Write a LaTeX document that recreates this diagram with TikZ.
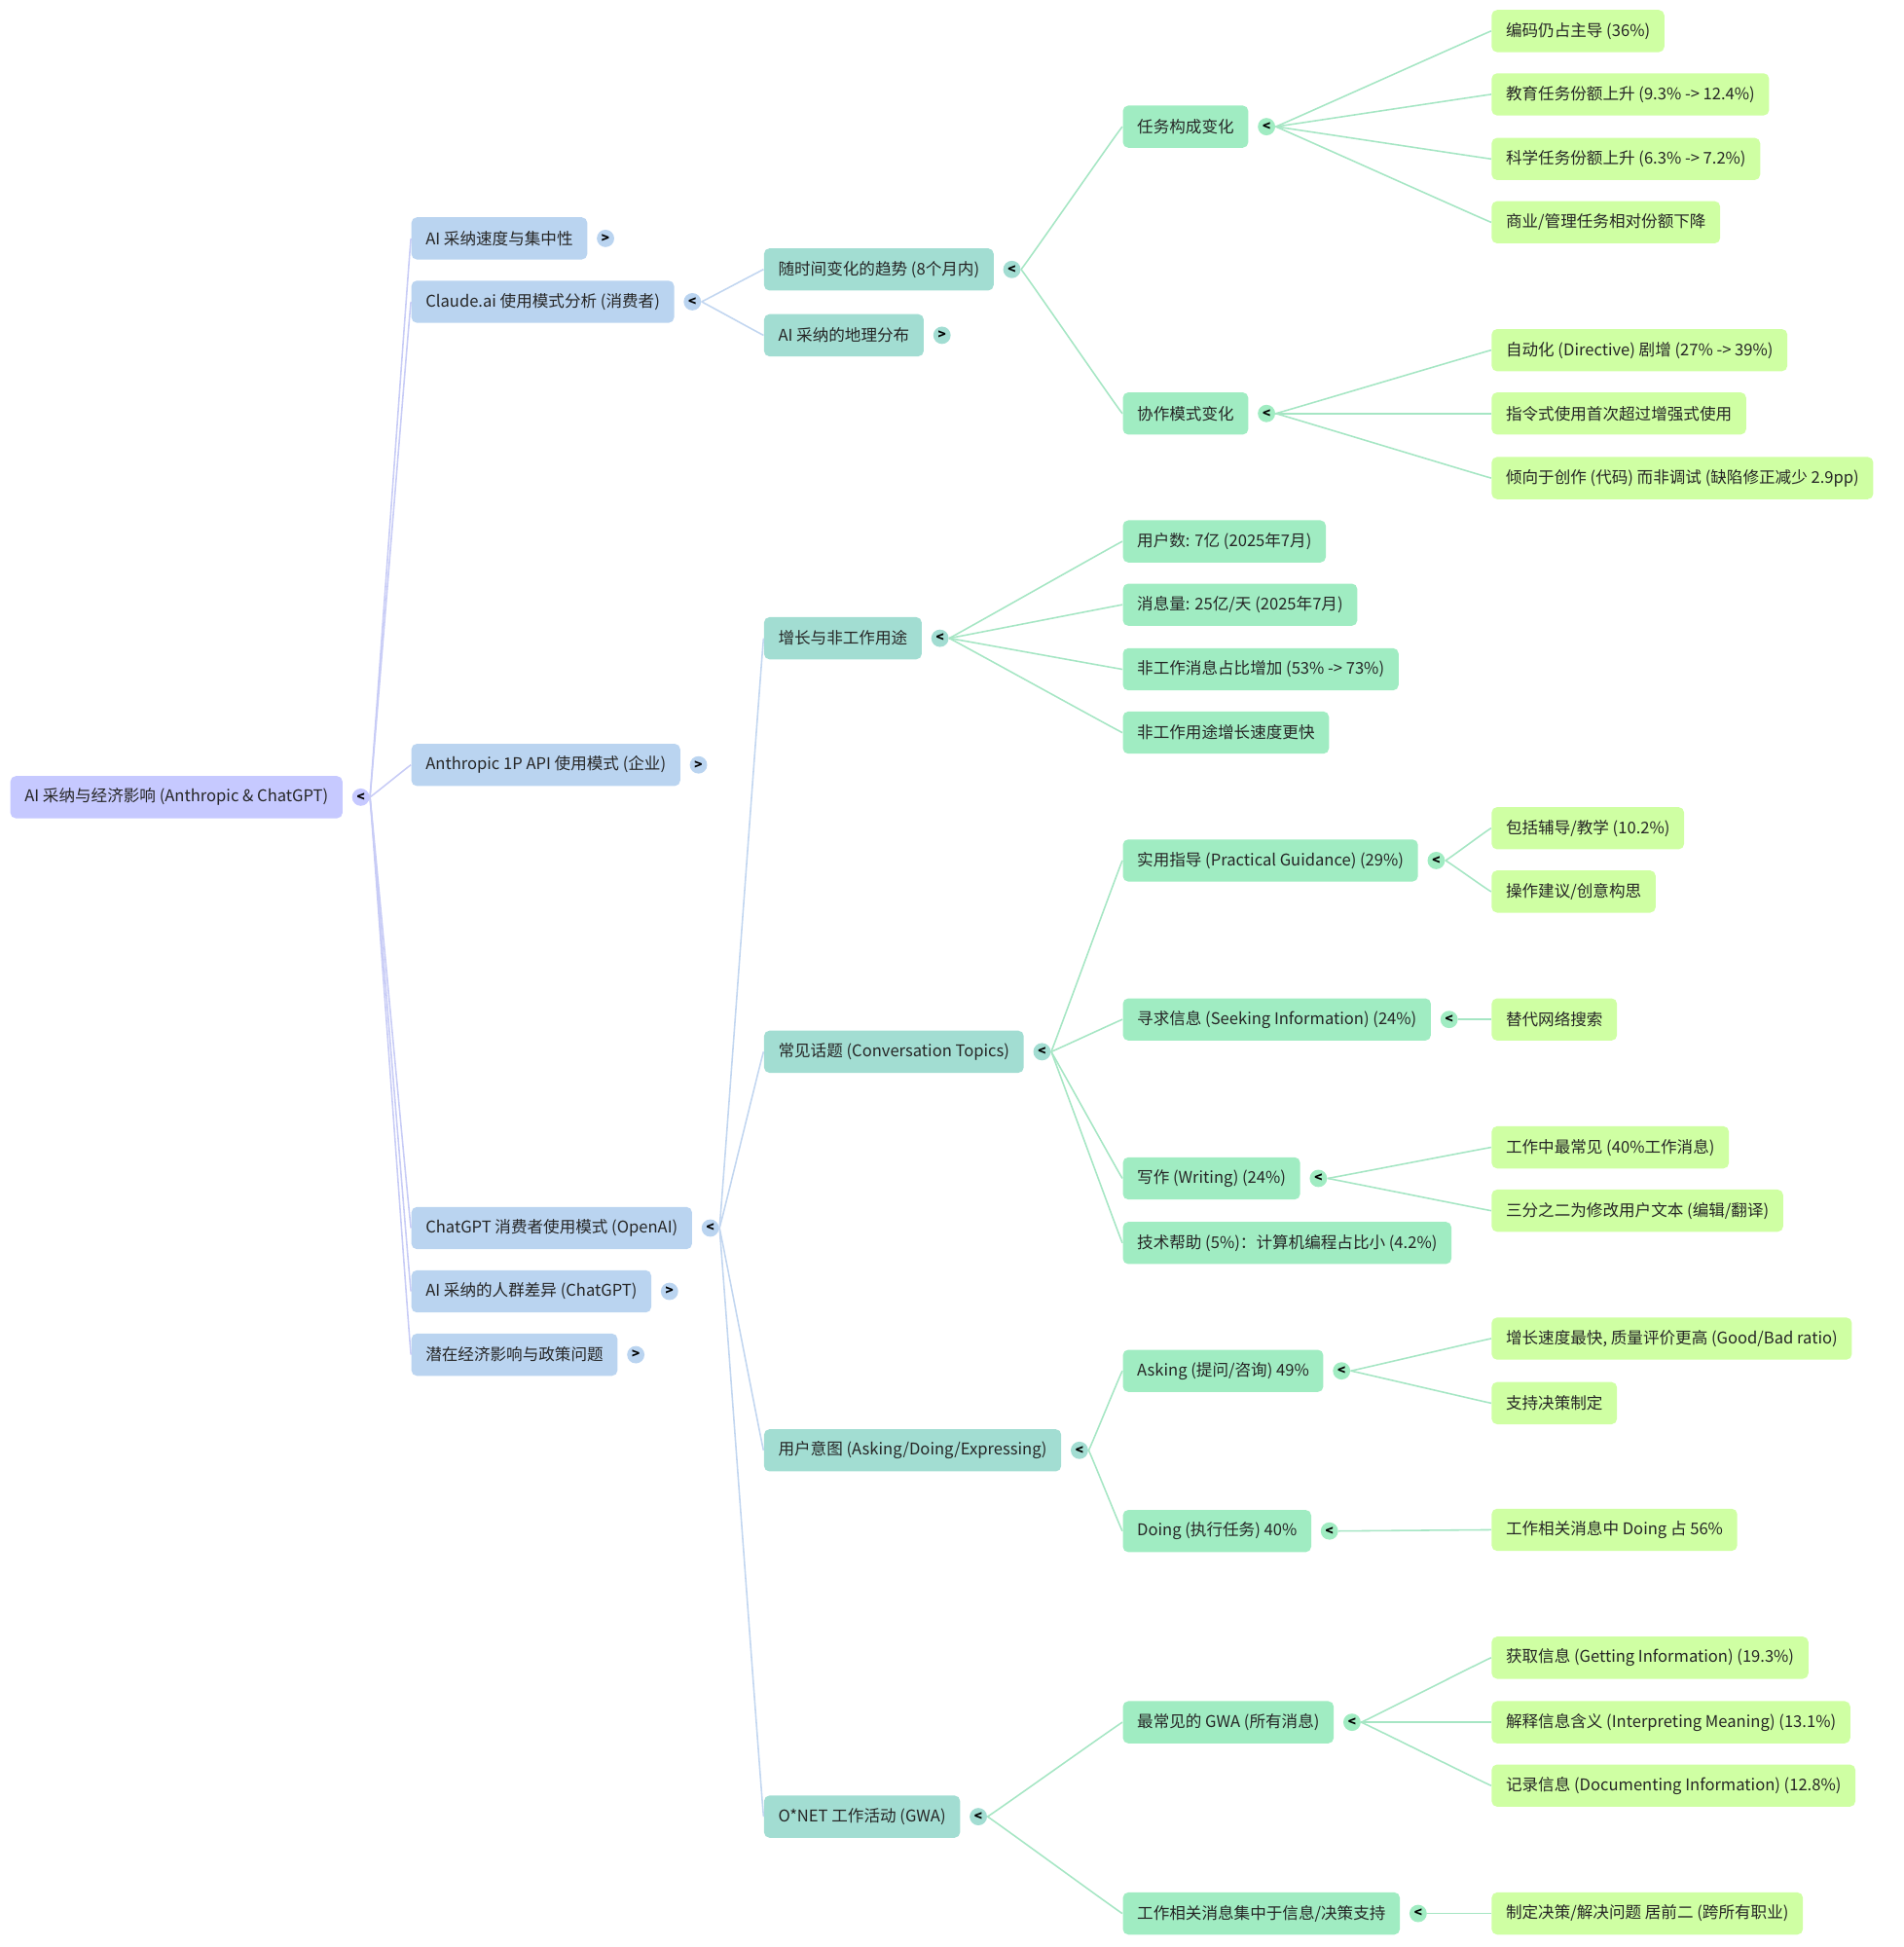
\documentclass[tikz,border=0pt]{standalone}
\usepackage{fontspec}
\setmainfont{Noto Sans CJK SC}
\usetikzlibrary{positioning}
\definecolor{rootc}{HTML}{C6C9FF}
\definecolor{lonec}{HTML}{BAD4F0}
\definecolor{ltwoc}{HTML}{A2DDD2}
\definecolor{lthreec}{HTML}{A0ECC2}
\definecolor{lfourc}{HTML}{CFFFA3}
\definecolor{eroot}{HTML}{C8CCF6}
\definecolor{eone}{HTML}{C2D6F0}
\definecolor{etwo}{HTML}{A6E6C4}
\tikzset{
  box/.style={anchor=west, rounded corners=2.5pt, minimum height=0.68cm, inner xsep=0.23cm,
    font=\fontsize{7.4}{9}\selectfont, text=black!85},
  root/.style={box, fill=rootc},
  lone/.style={box, fill=lonec},
  ltwo/.style={box, fill=ltwoc},
  lthree/.style={box, fill=lthreec},
  lfour/.style={box, fill=lfourc},
  ind/.style={circle, inner sep=0pt, minimum size=0.28cm, font=\fontsize{6}{6}\selectfont\bfseries},
  conn/.style={line width=0.7pt},
}
\newcommand{\ind}[3]{\node[ind, fill=#2, right=0.14cm of #1] (#1c) {#3};}
\begin{document}
\begin{tikzpicture}[x=0.02cm, y=-0.02cm]
\useasboundingbox (0,0) rectangle (1533,1568);
% root
\node[root] (r) at (8,642) {AI 采纳与经济影响 (Anthropic \& ChatGPT)};
\ind{r}{rootc}{<}
% level one
\node[lone] (a) at (331,192) {AI 采纳速度与集中性};
\node[lone] (b) at (331,243) {Claude.ai 使用模式分析 (消费者)};
\node[lone] (c) at (331,616) {Anthropic 1P API 使用模式 (企业)};
\node[lone] (d) at (331,989) {ChatGPT 消费者使用模式 (OpenAI)};
\node[lone] (e) at (331,1040) {AI 采纳的人群差异 (ChatGPT)};
\node[lone] (f) at (331,1091) {潜在经济影响与政策问题};
\ind{a}{lonec}{>}\ind{b}{lonec}{<}\ind{c}{lonec}{>}
\ind{d}{lonec}{<}\ind{e}{lonec}{>}\ind{f}{lonec}{>}
% level two
\node[ltwo] (b1) at (615,217) {随时间变化的趋势 (8个月内)};
\node[ltwo] (b2) at (615,270) {AI 采纳的地理分布};
\node[ltwo] (d1) at (615,514) {增长与非工作用途};
\node[ltwo] (d2) at (615,847) {常见话题 (Conversation Topics)};
\node[ltwo] (d3) at (615,1168) {用户意图 (Asking/Doing/Expressing)};
\node[ltwo] (d4) at (615,1463) {O*NET 工作活动 (GWA)};
\ind{b1}{ltwoc}{<}\ind{b2}{ltwoc}{>}
\ind{d2}{ltwoc}{<}\ind{d1}{ltwoc}{<}\ind{d3}{ltwoc}{<}\ind{d4}{ltwoc}{<}
% level three
\node[lthree] (t1) at (904,102) {任务构成变化};
\node[lthree] (t2) at (904,333) {协作模式变化};
\node[lthree] (g1) at (904,436) {用户数: 7亿 (2025年7月)};
\node[lthree] (g2) at (904,487) {消息量: 25亿/天 (2025年7月)};
\node[lthree] (g3) at (904,539) {非工作消息占比增加 (53\% -> 73\%)};
\node[lthree] (g4) at (904,590) {非工作用途增长速度更快};
\node[lthree] (p1) at (904,693) {实用指导 (Practical Guidance) (29\%)};
\node[lthree] (p2) at (904,821) {寻求信息 (Seeking Information) (24\%)};
\node[lthree] (p3) at (904,949) {写作 (Writing) (24\%)};
\node[lthree] (p4) at (904,1001) {技术帮助 (5\%)：计算机编程占比小 (4.2\%)};
\node[lthree] (u1) at (904,1104) {Asking (提问/咨询) 49\%};
\node[lthree] (u2) at (904,1233) {Doing (执行任务) 40\%};
\node[lthree] (o1) at (904,1387) {最常见的 GWA (所有消息)};
\node[lthree] (o2) at (904,1541) {工作相关消息集中于信息/决策支持};
\ind{t1}{lthreec}{<}\ind{t2}{lthreec}{<}\ind{p1}{lthreec}{<}\ind{p2}{lthreec}{<}
\ind{p3}{lthreec}{<}\ind{u1}{lthreec}{<}\ind{u2}{lthreec}{<}\ind{o1}{lthreec}{<}\ind{o2}{lthreec}{<}
% level four
\node[lfour] (t11) at (1201,25) {编码仍占主导 (36\%)};
\node[lfour] (t12) at (1201,76) {教育任务份额上升 (9.3\% -> 12.4\%)};
\node[lfour] (t13) at (1201,128) {科学任务份额上升 (6.3\% -> 7.2\%)};
\node[lfour] (t14) at (1201,179) {商业/管理任务相对份额下降};
\node[lfour] (t21) at (1201,282) {自动化 (Directive) 剧增 (27\% -> 39\%)};
\node[lfour] (t22) at (1201,333) {指令式使用首次超过增强式使用};
\node[lfour] (t23) at (1201,385) {倾向于创作 (代码) 而非调试 (缺陷修正减少 2.9pp)};
\node[lfour] (p11) at (1201,667) {包括辅导/教学 (10.2\%)};
\node[lfour] (p12) at (1201,718) {操作建议/创意构思};
\node[lfour] (p21) at (1201,821) {替代网络搜索};
\node[lfour] (p31) at (1201,924) {工作中最常见 (40\%工作消息)};
\node[lfour] (p32) at (1201,975) {三分之二为修改用户文本 (编辑/翻译)};
\node[lfour] (u11) at (1201,1078) {增长速度最快, 质量评价更高 (Good/Bad ratio)};
\node[lfour] (u12) at (1201,1130) {支持决策制定};
\node[lfour] (u21) at (1201,1232) {工作相关消息中 Doing 占 56\%};
\node[lfour] (o11) at (1201,1335) {获取信息 (Getting Information) (19.3\%)};
\node[lfour] (o12) at (1201,1387) {解释信息含义 (Interpreting Meaning) (13.1\%)};
\node[lfour] (o13) at (1201,1438) {记录信息 (Documenting Information) (12.8\%)};
\node[lfour] (o21) at (1201,1541) {制定决策/解决问题 居前二 (跨所有职业)};
% connectors
\foreach \k in {a,b,c,d,e,f}
  \draw[conn, eroot] (rc.east) .. controls +(0.6,0) and +(-0.6,0) .. (\k.west);
\foreach \k in {b1,b2}
  \draw[conn, eone] (bc.east) .. controls +(0.6,0) and +(-0.6,0) .. (\k.west);
\foreach \k in {d1,d2,d3,d4}
  \draw[conn, eone] (dc.east) .. controls +(0.6,0) and +(-0.6,0) .. (\k.west);
\foreach \k in {t1,t2}
  \draw[conn, etwo] (b1c.east) .. controls +(1,0) and +(-1,0) .. (\k.west);
\foreach \k in {g1,g2,g3,g4}
  \draw[conn, etwo] (d1c.east) .. controls +(1,0) and +(-1,0) .. (\k.west);
\foreach \k in {p1,p2,p3,p4}
  \draw[conn, etwo] (d2c.east) .. controls +(0.6,0) and +(-0.6,0) .. (\k.west);
\foreach \k in {u1,u2}
  \draw[conn, etwo] (d3c.east) .. controls +(0.6,0) and +(-0.6,0) .. (\k.west);
\foreach \k in {o1,o2}
  \draw[conn, etwo] (d4c.east) .. controls +(1,0) and +(-1,0) .. (\k.west);
\foreach \p/\k in {t1/t11,t1/t12,t1/t13,t1/t14,t2/t21,t2/t22,t2/t23,p1/p11,p1/p12,p2/p21,
    p3/p31,p3/p32,u1/u11,u1/u12,u2/u21,o1/o11,o1/o12,o1/o13,o2/o21}
  \draw[conn, etwo] (\p c.east) .. controls +(1.2,0) and +(-1.2,0) .. (\k.west);
\end{tikzpicture}
\end{document}
